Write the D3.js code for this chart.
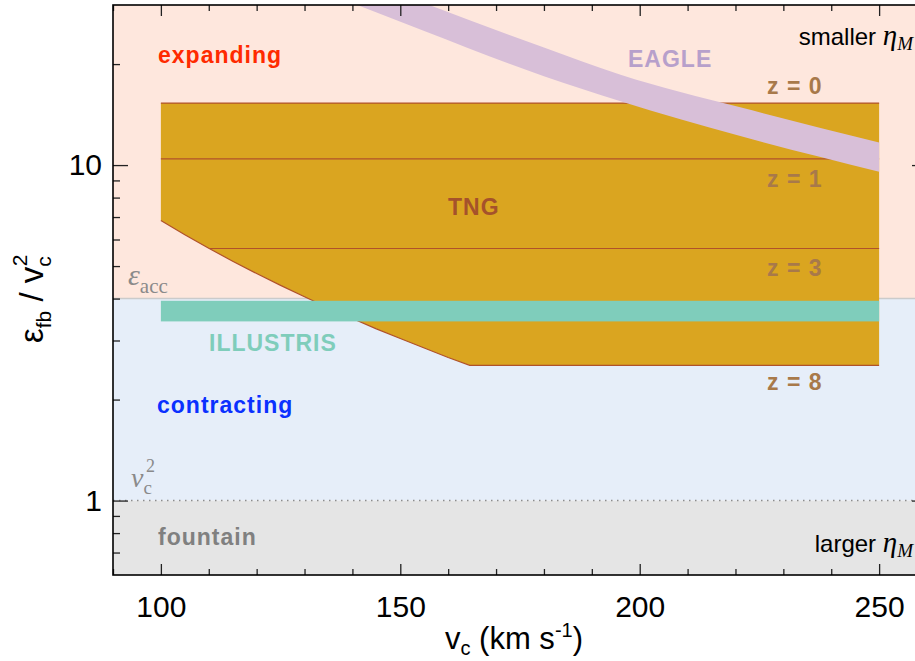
<!DOCTYPE html>
<html><head><meta charset="utf-8">
<script src="https://cdn.jsdelivr.net/npm/d3@7"></script>
<style>body{margin:0;background:#fff}svg{display:block}</style>
</head><body><svg id="c" width="915" height="661"></svg>
<script>
// ---------- data ----------
const vcDomain = [90, 260];
const ratioDomain = [0.6, 30];
const xMajorTicks = [100, 150, 200, 250];
const xMinorTicks = [90, 110, 120, 130, 140, 160, 170, 180, 190, 210, 220, 230, 240, 260];
const yMajorTicks = [1, 10];
const yMinorTicks = [0.7, 0.8, 0.9, 2, 3, 4, 5, 6, 7, 8, 9, 20];
const fountainRange = [0.6, 1];
const contractingRange = [1, 4.0];
const expandingRange = [4.0, 30];
const epsAccLevel = 4.0;
const vc2Level = 1;

const tngVc = [100, 105, 110, 115, 120, 125, 130, 135, 140, 145, 150, 155, 160, 164.5, 250];
const tngLower = [6.84, 6.2, 5.65, 5.17, 4.75, 4.38, 4.05, 3.75, 3.49, 3.25, 3.04, 2.85, 2.67, 2.53, 2.53];
const tngTop = 15.3;
const tngVcRange = [100, 250];
const tngZLabels = ["z = 0", "z = 1", "z = 3", "z = 8"];
const tngZLevels = [15.3, 10.44, 5.64, 2.53];
const tngZStartVc = [100, 100, 110.2, 164.5];

const illustrisVc = [100, 250];
const illustrisRange = [3.42, 3.94];

const eagleVc = [130, 140, 155, 180, 196, 221, 250];
const eagleUpper = [41.7, 36.7, 30.4, 22.4, 18.6, 14.86, 11.68];
const eagleLower = [34.6, 30.4, 25.1, 18.4, 15.5, 12.2, 9.56];

// ---------- layout ----------
const L = 113, R = 927, T = 5, B = 575;
const svg = d3.select("#c");
const x = d3.scaleLinear().domain(vcDomain).range([L, R]);
const y = d3.scaleLog().domain(ratioDomain).range([B, T]);
const SANS = "'Liberation Sans', Arial, Helvetica, sans-serif";
const SERIF = "'Liberation Serif', 'Times New Roman', serif";

svg.append("defs").append("clipPath").attr("id", "plot")
  .append("rect").attr("x", L).attr("y", T).attr("width", R - L).attr("height", B - T);
const g = svg.append("g").attr("clip-path", "url(#plot)");

// backgrounds
function band(range, fill) {
  g.append("rect").attr("x", x(vcDomain[0])).attr("width", x(vcDomain[1]) - x(vcDomain[0]))
    .attr("y", y(range[1])).attr("height", y(range[0]) - y(range[1])).attr("fill", fill);
}
band(expandingRange, "#fee7dd");
band(contractingRange, "#e6eef9");
band(fountainRange, "#e5e5e5");

g.append("line").attr("x1", L).attr("x2", R).attr("y1", y(epsAccLevel)).attr("y2", y(epsAccLevel))
  .attr("stroke", "#cbcbcb").attr("stroke-width", 1.5);
g.append("line").attr("x1", L).attr("x2", R).attr("y1", y(vc2Level)).attr("y2", y(vc2Level))
  .attr("stroke", "#8c8c8c").attr("stroke-width", 1.5).attr("stroke-dasharray", "1.5,4.5");

// TNG region
const tngArea = d3.area().x((d, i) => x(tngVc[i])).y0((d, i) => y(tngLower[i])).y1(() => y(tngTop));
g.append("path").attr("d", tngArea(tngVc)).attr("fill", "#daa520");
const tngStroke = "#b0522a";
tngZLevels.forEach((lv, i) => {
  if (i === 3) return;
  g.append("line").attr("x1", x(tngZStartVc[i])).attr("x2", x(tngVcRange[1]))
    .attr("y1", y(lv)).attr("y2", y(lv)).attr("stroke", tngStroke).attr("stroke-width", 1.2);
});
const lowLine = d3.line().x((d, i) => x(tngVc[i])).y((d, i) => y(tngLower[i]));
g.append("path").attr("d", lowLine(tngVc))
  .attr("fill", "none").attr("stroke", tngStroke).attr("stroke-width", 1.2);

// Illustris band
g.append("rect").attr("x", x(illustrisVc[0])).attr("width", x(illustrisVc[1]) - x(illustrisVc[0]))
  .attr("y", y(illustrisRange[1])).attr("height", y(illustrisRange[0]) - y(illustrisRange[1]))
  .attr("fill", "#7fcdbb");

// EAGLE band
const eArea = d3.area().x((d, i) => x(eagleVc[i])).y0((d, i) => y(eagleLower[i])).y1((d, i) => y(eagleUpper[i]))
  .curve(d3.curveMonotoneX);
g.append("path").attr("d", eArea(eagleVc)).attr("fill", "#d8bfd8");

// ---------- labels ----------
function lab(t, xx, yy, fill) {
  return svg.append("text").attr("x", xx).attr("y", yy).attr("fill", fill)
    .attr("font-family", SANS).attr("font-weight", "bold").attr("font-size", 23)
    .attr("letter-spacing", 1).text(t);
}
lab("expanding", 158, 63, "#ff2a00");
lab("contracting", 157, 413, "#0a30ff");
lab("fountain", 158, 545, "#808080");
lab("ILLUSTRIS", 209, 351, "#7fcdbb");
lab("EAGLE", 628, 67, "#b7a0cb");
lab("TNG", 448, 215, "#a5522b");
const zOff = [-9, 28, 27, 25];
tngZLabels.forEach((t, i) => lab(t, 767, y(tngZLevels[i]) + zOff[i], "#a8794a"));

// eps_acc
const ea = svg.append("text").attr("x", 128).attr("y", 285).attr("fill", "#8a8a8a").attr("font-family", SERIF);
ea.append("tspan").attr("font-style", "italic").attr("font-size", 30).text("ε");
ea.append("tspan").attr("font-size", 21).attr("dy", 8).text("acc");
// v_c^2
const vv = svg.append("text").attr("x", 131).attr("y", 487).attr("fill", "#8a8a8a").attr("font-family", SERIF);
vv.append("tspan").attr("font-style", "italic").attr("font-size", 28).text("v");
vv.append("tspan").attr("font-size", 19).attr("dy", 7).text("c");
vv.append("tspan").attr("font-size", 18).attr("dx", -6).attr("dy", -22).text("2");

function etaLabel(word, yy) {
  const t = svg.append("text").attr("x", 913).attr("y", yy).attr("text-anchor", "end")
    .attr("fill", "#000").attr("font-family", SANS).attr("font-size", 24);
  t.append("tspan").text(word + " ");
  t.append("tspan").attr("font-family", SERIF).attr("font-style", "italic").attr("font-size", 29).text("η");
  t.append("tspan").attr("font-family", SERIF).attr("font-style", "italic").attr("font-size", 19).attr("dy", 5).text("M");
}
etaLabel("smaller", 45);
etaLabel("larger", 552);

// ---------- axes ----------
const tickCol = "#222";
function styleAxis(sel) {
  sel.select(".domain").remove();
  sel.selectAll(".tick line").attr("stroke", tickCol).attr("stroke-width", 1.3);
  sel.selectAll("text").attr("font-family", SANS).attr("font-size", 30).attr("fill", "#000");
}
svg.append("g").attr("transform", `translate(0,${B})`)
  .call(d3.axisBottom(x).tickValues(xMajorTicks).tickSize(-11).tickPadding(21).tickFormat(d3.format("d"))).call(styleAxis);
svg.append("g").attr("transform", `translate(0,${B})`)
  .call(d3.axisBottom(x).tickValues(xMinorTicks).tickSize(-6).tickFormat("")).call(styleAxis);
svg.append("g").attr("transform", `translate(0,${T})`)
  .call(d3.axisTop(x).tickValues(xMajorTicks).tickSize(-11).tickFormat("")).call(styleAxis);
svg.append("g").attr("transform", `translate(0,${T})`)
  .call(d3.axisTop(x).tickValues(xMinorTicks).tickSize(-6).tickFormat("")).call(styleAxis);
svg.append("g").attr("transform", `translate(${L},0)`)
  .call(d3.axisLeft(y).tickValues(yMajorTicks).tickSize(-15).tickPadding(11).tickFormat(d3.format("d"))).call(styleAxis);
svg.append("g").attr("transform", `translate(${L},0)`)
  .call(d3.axisLeft(y).tickValues(yMinorTicks).tickSize(-7).tickFormat("")).call(styleAxis);
svg.append("g").attr("transform", `translate(${R},0)`)
  .call(d3.axisRight(y).tickValues(yMajorTicks).tickSize(-15).tickFormat("")).call(styleAxis);
svg.append("g").attr("transform", `translate(${R},0)`)
  .call(d3.axisRight(y).tickValues(yMinorTicks).tickSize(-7).tickFormat("")).call(styleAxis);

svg.append("rect").attr("x", L).attr("y", T).attr("width", R - L).attr("height", B - T)
  .attr("fill", "none").attr("stroke", "#000").attr("stroke-width", 1.6);

// axis titles
const xt = svg.append("text").attr("x", 445).attr("y", 649)
  .attr("font-family", SANS).attr("font-size", 31).attr("fill", "#000");
xt.append("tspan").text("v");
xt.append("tspan").attr("font-size", 20).attr("dy", 6).text("c");
xt.append("tspan").attr("dy", -6).text(" (km s");
xt.append("tspan").attr("font-size", 20).attr("dy", -12).text("-1");
xt.append("tspan").attr("dy", 12).text(")");

const yt = svg.append("text").attr("transform", `translate(43,343) rotate(-90)`)
  .attr("font-family", SANS).attr("font-size", 33).attr("fill", "#000");
yt.append("tspan").text("ε");
yt.append("tspan").attr("font-size", 21).attr("dy", 8).text("fb");
yt.append("tspan").attr("dy", -8).text(" / v");
yt.append("tspan").attr("font-size", 21).attr("dy", 8).text("c");
yt.append("tspan").attr("font-size", 21).attr("dx", -10).attr("dy", -24).text("2");
</script></body></html>
